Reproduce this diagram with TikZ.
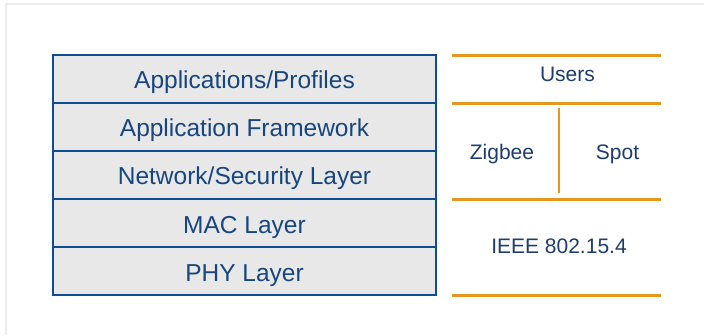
\documentclass[tikz,border=0pt]{standalone}
\usepackage{fontspec}
\setmainfont{Liberation Sans}
\definecolor{stackblue}{HTML}{0F4C96}
\definecolor{stacktext}{HTML}{17467F}
\definecolor{righttext}{HTML}{1E3D6E}
\definecolor{rowfill}{HTML}{E8E8E8}
\definecolor{lineorange}{HTML}{E8961E}
\definecolor{framegray}{HTML}{ECECEC}
\begin{document}
\begin{tikzpicture}[x=1pt,y=1pt,
  layerbox/.style={draw=stackblue, line width=2pt, fill=rowfill, minimum width=383pt, minimum height=48pt, inner sep=0pt, text height=20pt, text depth=0pt, text=stacktext, font=\fontsize{24.5}{27}\selectfont},
  rlabel/.style={text=righttext, inner sep=0pt, anchor=base, font=\fontsize{21}{24}\selectfont},
  orangeline/.style={draw=lineorange, line width=2.5pt},
  framestyle/.style={draw=framegray, line width=2pt}]
\useasboundingbox (0,0) rectangle (704,335);
\fill[white] (0,0) rectangle (704,335);
% outer frame (top and left edges)
\coordinate (fbl) at (6,0);
\coordinate (ftl) at (6,331);
\coordinate (ftr) at (704,331);
\draw[framestyle] (fbl) -- (ftl) -- (ftr);
% left stack
\node[layerbox] (app) at (244.5,256) {Applications/Profiles};
\node[layerbox] (fw) at (244.5,208) {Application Framework};
\node[layerbox] (net) at (244.5,160) {Network/Security Layer};
\node[layerbox] (mac) at (244.5,112) {MAC Layer};
\node[layerbox] (phy) at (244.5,64) {PHY Layer};
% right side lines
\coordinate (l1a) at (452,279.5); \coordinate (l1b) at (661,279.5);
\coordinate (l2a) at (452,231.5); \coordinate (l2b) at (661,231.5);
\coordinate (l3a) at (452,135.5); \coordinate (l3b) at (661,135.5);
\coordinate (l4a) at (452,39.5);  \coordinate (l4b) at (661,39.5);
\coordinate (va) at (559,226.5); \coordinate (vb) at (559,141.5);
\draw[orangeline] (l1a) -- (l1b);
\draw[orangeline] (l2a) -- (l2b);
\draw[orangeline] (l3a) -- (l3b);
\draw[orangeline] (l4a) -- (l4b);
\draw[orangeline] (va) -- (vb);
% right labels
\node[rlabel] (users) at (567.5,253.3) {Users};
\node[rlabel] (zigbee) at (502,175) {Zigbee};
\node[rlabel] (spot) at (617.5,175) {Spot};
\node[rlabel] (ieee) at (559,81.7) {IEEE 802.15.4};
\end{tikzpicture}
\end{document}
